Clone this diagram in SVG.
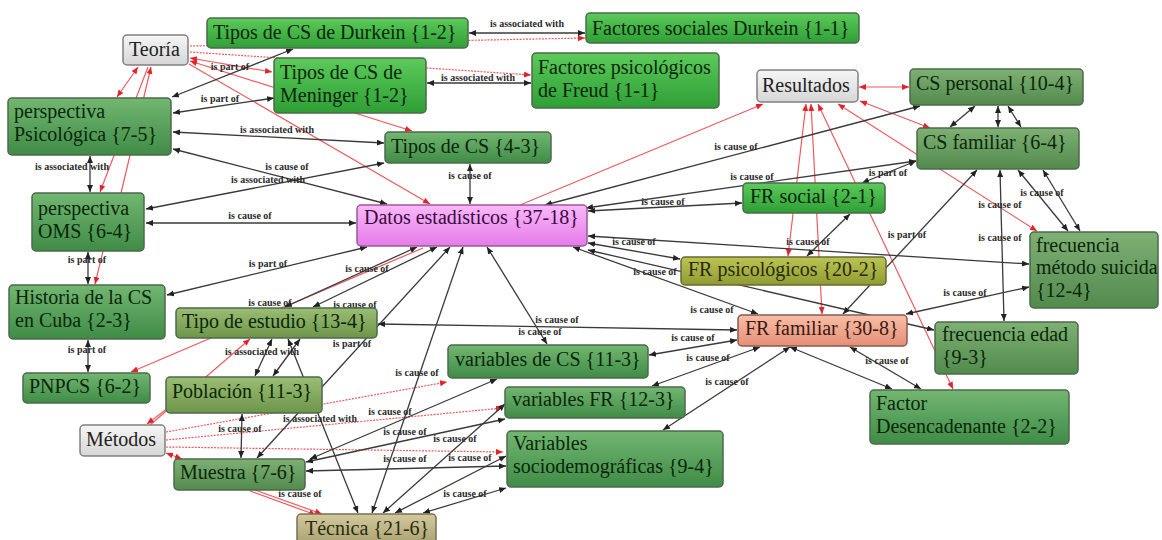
<svg xmlns="http://www.w3.org/2000/svg" width="1162" height="540" viewBox="0 0 1162 540">
<defs>
<linearGradient id="gGreen" x1="0" y1="0" x2="0" y2="1"><stop offset="0" stop-color="#72b671"/><stop offset="1" stop-color="#3f8c47"/></linearGradient>
<linearGradient id="gBright" x1="0" y1="0" x2="0" y2="1"><stop offset="0" stop-color="#5ccb5a"/><stop offset="1" stop-color="#2f9e36"/></linearGradient>
<linearGradient id="gDull" x1="0" y1="0" x2="0" y2="1"><stop offset="0" stop-color="#7fb074"/><stop offset="1" stop-color="#528a4d"/></linearGradient>
<linearGradient id="gTipo" x1="0" y1="0" x2="0" y2="1"><stop offset="0" stop-color="#9cbd74"/><stop offset="1" stop-color="#6c964b"/></linearGradient>
<linearGradient id="gOlive" x1="0" y1="0" x2="0" y2="1"><stop offset="0" stop-color="#bcc455"/><stop offset="1" stop-color="#8f9b32"/></linearGradient>
<linearGradient id="gKhaki" x1="0" y1="0" x2="0" y2="1"><stop offset="0" stop-color="#d2ca9e"/><stop offset="1" stop-color="#aaa172"/></linearGradient>
<linearGradient id="gSalmon" x1="0" y1="0" x2="0" y2="1"><stop offset="0" stop-color="#f8bea6"/><stop offset="1" stop-color="#e58f78"/></linearGradient>
<linearGradient id="gPink" x1="0" y1="0" x2="0" y2="1"><stop offset="0" stop-color="#fab8fa"/><stop offset="1" stop-color="#e47ce8"/></linearGradient>
<linearGradient id="gGray" x1="0" y1="0" x2="0" y2="1"><stop offset="0" stop-color="#f6f6f6"/><stop offset="1" stop-color="#d6d6d6"/></linearGradient>
<marker id="ab" markerUnits="userSpaceOnUse" markerWidth="8" markerHeight="7" refX="7" refY="3" orient="auto-start-reverse"><path d="M0,0 L7,3 L0,6 z" fill="#222"/></marker>
<marker id="ar" markerUnits="userSpaceOnUse" markerWidth="8" markerHeight="7" refX="7" refY="3" orient="auto-start-reverse"><path d="M0,0 L7,3 L0,6 z" fill="#e8202a"/></marker>
<style>
.e{stroke:#3a3a3a;stroke-width:1.3;fill:none;marker-start:url(#ab);marker-end:url(#ab)}
.r{stroke:#ee5a5e;stroke-width:1.2;fill:none;marker-end:url(#ar)}
.rb{marker-start:url(#ar)}
.rd{stroke-dasharray:2 1.2}
.lb{font-family:"Liberation Serif",serif;font-size:10px;font-weight:bold;fill:#2a2a2a;text-anchor:middle}
.n rect{stroke:#4c6a4c;stroke-width:1.5}
.g rect{stroke:#808080}
.n text{font-family:"Liberation Serif",serif;font-size:20px;fill:#0a260a}
.g text{fill:#222}
</style>
</defs>
<rect width="1162" height="540" fill="#ffffff"/>
<g id="connectors">
<line class="r rd" x1="190" y1="46" x2="585" y2="38"/>
<line class="r rd" x1="190" y1="52" x2="531" y2="75"/>
<line class="r rb" x1="190" y1="58" x2="272" y2="72"/>
<line class="r rb" x1="190" y1="61" x2="412" y2="131"/>
<line class="r" x1="189" y1="64" x2="430" y2="204"/>
<line class="r rb" x1="117" y1="97" x2="138" y2="67"/>
<line class="r" x1="148" y1="67" x2="100" y2="192"/>
<line class="r" x1="121" y1="193" x2="151" y2="67"/>
<line class="r" x1="103" y1="251" x2="95" y2="284"/>
<line class="r" x1="423" y1="248" x2="131" y2="372"/>
<line class="r" x1="520" y1="205" x2="763" y2="104"/>
<line class="r rb" x1="859" y1="87" x2="909" y2="87"/>
<line class="r rb" x1="860" y1="101" x2="930" y2="128"/>
<line class="r rb" x1="806" y1="104" x2="788" y2="256"/>
<line class="r rb" x1="811" y1="104" x2="822" y2="314"/>
<line class="r rb" x1="818" y1="104" x2="953" y2="389"/>
<line class="r rb" x1="838" y1="104" x2="1037" y2="231"/>
<line class="r" x1="150" y1="425" x2="250" y2="339"/>
<line class="r" x1="168" y1="408" x2="147" y2="424"/>
<line class="r rd" x1="166" y1="432" x2="447" y2="382"/>
<line class="r rd" x1="166" y1="440" x2="503" y2="408"/>
<line class="r rd" x1="166" y1="447" x2="503" y2="452"/>
<line class="r rb" x1="166" y1="453" x2="182" y2="459"/>
<line class="r" x1="255" y1="490" x2="322" y2="514"/>
<line class="r" x1="250" y1="491" x2="316" y2="515"/>
<line class="e" x1="469" y1="33" x2="585" y2="33"/>
<line class="e" x1="427" y1="83" x2="531" y2="83"/>
<line class="e" x1="293" y1="49" x2="172" y2="97"/>
<line class="e" x1="274" y1="98" x2="173" y2="113"/>
<line class="e" x1="90" y1="156" x2="90" y2="192"/>
<line class="e" x1="173" y1="132" x2="384" y2="143"/>
<line class="e" x1="387" y1="204" x2="173" y2="149"/>
<line class="e" x1="146" y1="209" x2="384" y2="163"/>
<line class="e" x1="356" y1="223" x2="146" y2="223"/>
<line class="e" x1="367" y1="247" x2="167" y2="295"/>
<line class="e" x1="470" y1="204" x2="470" y2="164"/>
<line class="e" x1="88" y1="252" x2="88" y2="284"/>
<line class="e" x1="88" y1="340" x2="88" y2="372"/>
<line class="e" x1="417" y1="247" x2="285" y2="307"/>
<line class="e" x1="437" y1="247" x2="313" y2="307"/>
<line class="e" x1="450" y1="247" x2="257" y2="458"/>
<line class="e" x1="463" y1="247" x2="372" y2="513"/>
<line class="e" x1="487" y1="247" x2="547" y2="344"/>
<line class="e" x1="378" y1="324" x2="737" y2="330"/>
<line class="e" x1="573" y1="247" x2="758" y2="314"/>
<line class="e" x1="545" y1="205" x2="920" y2="106"/>
<line class="e" x1="586" y1="208" x2="916" y2="161"/>
<line class="e" x1="588" y1="211" x2="742" y2="203"/>
<line class="e" x1="588" y1="236" x2="1029" y2="264"/>
<line class="e" x1="588" y1="243" x2="680" y2="259"/>
<line class="e" x1="588" y1="250" x2="934" y2="330"/>
<line class="e" x1="862" y1="183" x2="916" y2="161"/>
<line class="e" x1="850" y1="214" x2="807" y2="256"/>
<line class="e" x1="977" y1="170" x2="843" y2="314"/>
<line class="e" x1="950" y1="127" x2="975" y2="106"/>
<line class="e" x1="998" y1="127" x2="998" y2="106"/>
<line class="e" x1="1021" y1="127" x2="1008" y2="106"/>
<line class="e" x1="1004" y1="321" x2="1000" y2="170"/>
<line class="e" x1="1068" y1="231" x2="1018" y2="170"/>
<line class="e" x1="1043" y1="170" x2="1080" y2="231"/>
<line class="e" x1="1029" y1="287" x2="906" y2="314"/>
<line class="e" x1="790" y1="347" x2="892" y2="389"/>
<line class="e" x1="850" y1="347" x2="921" y2="389"/>
<line class="e" x1="649" y1="355" x2="737" y2="340"/>
<line class="e" x1="652" y1="386" x2="760" y2="347"/>
<line class="e" x1="663" y1="430" x2="790" y2="347"/>
<line class="e" x1="255" y1="376" x2="272" y2="339"/>
<line class="e" x1="273" y1="376" x2="300" y2="339"/>
<line class="e" x1="288" y1="339" x2="358" y2="513"/>
<line class="e" x1="242" y1="414" x2="241" y2="458"/>
<line class="e" x1="310" y1="459" x2="497" y2="379"/>
<line class="e" x1="306" y1="462" x2="505" y2="419"/>
<line class="e" x1="506" y1="466" x2="306" y2="471"/>
<line class="e" x1="383" y1="513" x2="505" y2="404"/>
<line class="e" x1="395" y1="513" x2="506" y2="456"/>
<line class="e" x1="423" y1="513" x2="506" y2="488"/>
<text class="lb" x="527" y="27">is associated with</text>
<text class="lb" x="478" y="81">is associated with</text>
<text class="lb" x="230" y="70">is part of</text>
<text class="lb" x="220" y="102">is part of</text>
<text class="lb" x="277" y="133">is associated with</text>
<text class="lb" x="287" y="170">is cause of</text>
<text class="lb" x="268" y="183">is associated with</text>
<text class="lb" x="72" y="170">is associated with</text>
<text class="lb" x="250" y="219">is cause of</text>
<text class="lb" x="87" y="263">is part of</text>
<text class="lb" x="268" y="267">is part of</text>
<text class="lb" x="87" y="353">is part of</text>
<text class="lb" x="270" y="306">is cause of</text>
<text class="lb" x="262" y="355">is associated with</text>
<text class="lb" x="470" y="179">is cause of</text>
<text class="lb" x="367" y="272">is cause of</text>
<text class="lb" x="355" y="308">is cause of</text>
<text class="lb" x="352" y="347">is part of</text>
<text class="lb" x="557" y="323">is cause of</text>
<text class="lb" x="540" y="335">is cause of</text>
<text class="lb" x="736" y="150">is cause of</text>
<text class="lb" x="752" y="180">is cause of</text>
<text class="lb" x="663" y="205">is cause of</text>
<text class="lb" x="634" y="245">is cause of</text>
<text class="lb" x="655" y="275">is cause of</text>
<text class="lb" x="808" y="245">is cause of</text>
<text class="lb" x="712" y="313">is cause of</text>
<text class="lb" x="693" y="341">is cause of</text>
<text class="lb" x="708" y="361">is cause of</text>
<text class="lb" x="727" y="385">is cause of</text>
<text class="lb" x="888" y="176">is part of</text>
<text class="lb" x="1042" y="196">is cause of</text>
<text class="lb" x="1000" y="208">is cause of</text>
<text class="lb" x="907" y="238">is part of</text>
<text class="lb" x="1000" y="241">is cause of</text>
<text class="lb" x="965" y="296">is cause of</text>
<text class="lb" x="887" y="364">is cause of</text>
<text class="lb" x="417" y="376">is cause of</text>
<text class="lb" x="320" y="422">is associated with</text>
<text class="lb" x="390" y="415">is cause of</text>
<text class="lb" x="240" y="432">is cause of</text>
<text class="lb" x="405" y="435">is cause of</text>
<text class="lb" x="455" y="442">is cause of</text>
<text class="lb" x="405" y="462">is cause of</text>
<text class="lb" x="470" y="461">is cause of</text>
<text class="lb" x="465" y="497">is cause of</text>
<text class="lb" x="300" y="497">is cause of</text>
</g>
<g id="n-teoria" class="n g"><rect x="123" y="35" width="65" height="30" rx="4" fill="url(#gGray)"/><text x="129" y="56">Teoría</text></g>
<g id="n-durkein" class="n"><rect x="207" y="18" width="261" height="30" rx="4" fill="url(#gBright)"/><text x="213" y="39">Tipos de CS de Durkein {1-2}</text></g>
<g id="n-factsoc" class="n"><rect x="586" y="13" width="273" height="30" rx="4" fill="url(#gBright)"/><text x="592" y="35">Factores sociales Durkein {1-1}</text></g>
<g id="n-meninger" class="n"><rect x="274" y="58" width="152" height="55" rx="4" fill="url(#gBright)"/><text x="280" y="79">Tipos de CS de</text><text x="280" y="102">Meninger {1-2}</text></g>
<g id="n-freud" class="n"><rect x="532" y="53" width="187" height="55" rx="4" fill="url(#gBright)"/><text x="538" y="74">Factores psicológicos</text><text x="538" y="97">de Freud {1-1}</text></g>
<g id="n-resultados" class="n g"><rect x="757" y="70" width="101" height="32" rx="4" fill="url(#gGray)"/><text x="762" y="92">Resultados</text></g>
<g id="n-cspersonal" class="n"><rect x="910" y="69" width="173" height="36" rx="4" fill="url(#gDull)"/><text x="916" y="90">CS personal {10-4}</text></g>
<g id="n-csfamiliar" class="n"><rect x="917" y="128" width="162" height="41" rx="4" fill="url(#gDull)"/><text x="923" y="149">CS familiar {6-4}</text></g>
<g id="n-psico" class="n"><rect x="8" y="98" width="163" height="57" rx="4" fill="url(#gGreen)"/><text x="14" y="118">perspectiva</text><text x="14" y="141">Psicológica {7-5}</text></g>
<g id="n-tiposcs" class="n"><rect x="385" y="132" width="166" height="31" rx="4" fill="url(#gGreen)"/><text x="391" y="153">Tipos de CS {4-3}</text></g>
<g id="n-oms" class="n"><rect x="32" y="193" width="112" height="58" rx="4" fill="url(#gGreen)"/><text x="38" y="215">perspectiva</text><text x="38" y="238">OMS {6-4}</text></g>
<g id="n-historia" class="n"><rect x="9" y="285" width="156" height="54" rx="4" fill="url(#gGreen)"/><text x="15" y="304">Historia de la CS</text><text x="15" y="327">en Cuba {2-3}</text></g>
<g id="n-tipoestudio" class="n"><rect x="176" y="308" width="201" height="30" rx="4" fill="url(#gTipo)"/><text x="182" y="328">Tipo de estudio {13-4}</text></g>
<g id="n-datos" class="n"><rect x="357" y="205" width="230" height="41" rx="4" fill="url(#gPink)" style="stroke:#9a5a9a"/><text x="364" y="224" style="fill:#3a0a40">Datos estadísticos {37-18}</text></g>
<g id="n-frsocial" class="n"><rect x="743" y="183" width="142" height="30" rx="4" fill="url(#gBright)"/><text x="750" y="203">FR social {2-1}</text></g>
<g id="n-frpsico" class="n"><rect x="681" y="257" width="205" height="28" rx="4" fill="url(#gOlive)" style="stroke:#6a6a30"/><text x="688" y="276" style="fill:#2a2a05">FR psicológicos {20-2}</text></g>
<g id="n-frfamiliar" class="n"><rect x="738" y="315" width="169" height="31" rx="4" fill="url(#gSalmon)" style="stroke:#8a5a50"/><text x="745" y="335" style="fill:#3a1a10">FR familiar {30-8}</text></g>
<g id="n-freqmetodo" class="n"><rect x="1030" y="232" width="128" height="76" rx="4" fill="url(#gDull)"/><text x="1036" y="252">frecuencia</text><text x="1036" y="274">método suicida</text><text x="1036" y="297">{12-4}</text></g>
<g id="n-freqedad" class="n"><rect x="935" y="322" width="143" height="52" rx="4" fill="url(#gDull)"/><text x="942" y="341">frecuencia edad</text><text x="942" y="364">{9-3}</text></g>
<g id="n-factor" class="n"><rect x="870" y="390" width="199" height="54" rx="4" fill="url(#gGreen)"/><text x="876" y="410">Factor</text><text x="876" y="433">Desencadenante {2-2}</text></g>
<g id="n-pnpcs" class="n"><rect x="23" y="373" width="127" height="30" rx="4" fill="url(#gGreen)"/><text x="29" y="393">PNPCS {6-2}</text></g>
<g id="n-poblacion" class="n"><rect x="166" y="377" width="156" height="36" rx="4" fill="url(#gTipo)"/><text x="172" y="398">Población {11-3}</text></g>
<g id="n-metodos" class="n g"><rect x="80" y="425" width="85" height="31" rx="4" fill="url(#gGray)"/><text x="86" y="446">Métodos</text></g>
<g id="n-muestra" class="n"><rect x="174" y="459" width="131" height="31" rx="4" fill="url(#gDull)"/><text x="180" y="479">Muestra {7-6}</text></g>
<g id="n-tecnica" class="n"><rect x="297" y="514" width="139" height="30" rx="4" fill="url(#gKhaki)" style="stroke:#7a7050"/><text x="305" y="535" style="fill:#2a2a10">Técnica {21-6}</text></g>
<g id="n-varcs" class="n"><rect x="448" y="345" width="200" height="33" rx="4" fill="url(#gGreen)"/><text x="455" y="366">variables de CS {11-3}</text></g>
<g id="n-varfr" class="n"><rect x="505" y="387" width="180" height="31" rx="4" fill="url(#gGreen)"/><text x="512" y="406">variables FR {12-3}</text></g>
<g id="n-varsocio" class="n"><rect x="507" y="431" width="216" height="56" rx="4" fill="url(#gGreen)"/><text x="513" y="450">Variables</text><text x="513" y="473">sociodemográficas {9-4}</text></g>
</svg>
